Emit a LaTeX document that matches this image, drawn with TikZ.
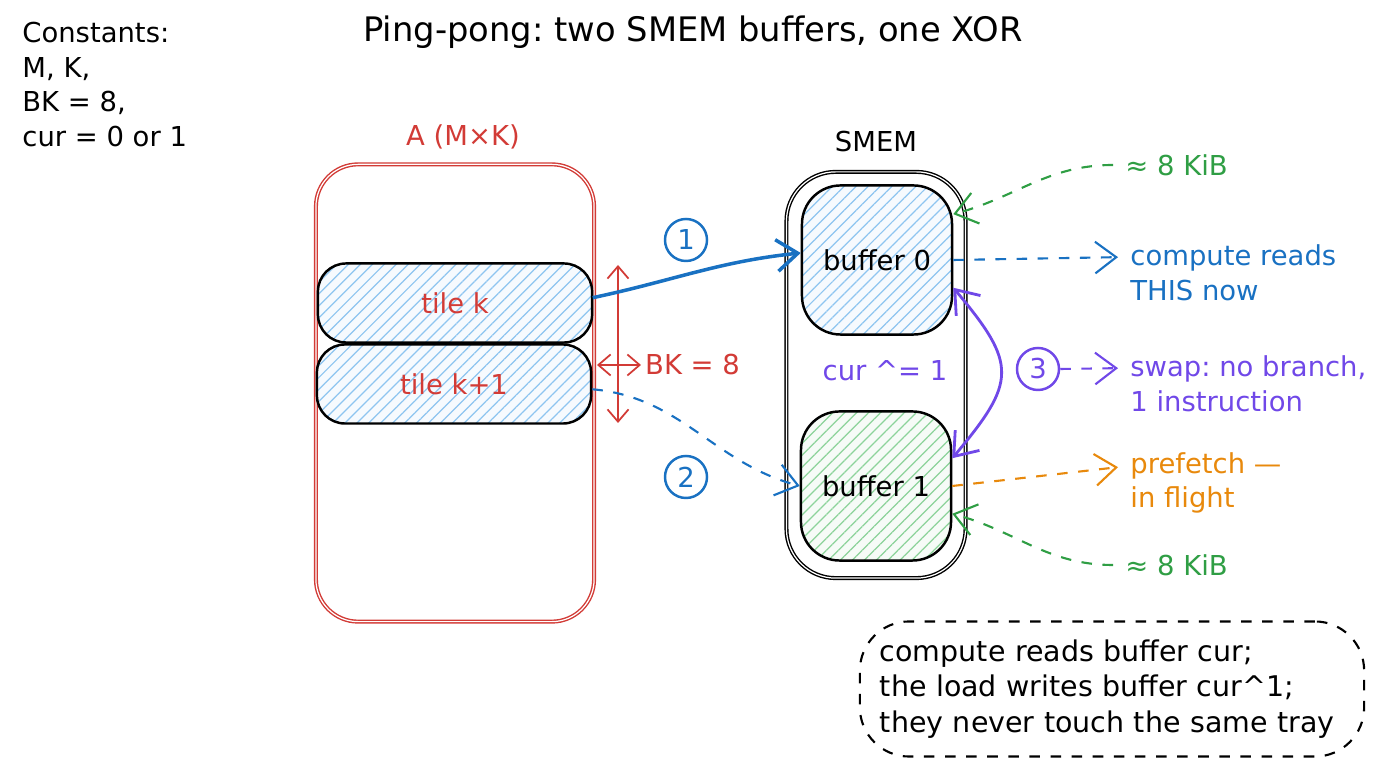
\documentclass[tikz,border=0pt]{standalone}
\usepackage{fontspec}
\setmainfont{DejaVu Sans}
\usetikzlibrary{arrows.meta,patterns.meta,positioning}
\definecolor{sred}{HTML}{D23B36}
\definecolor{sblue}{HTML}{1971C2}
\definecolor{sgreen}{HTML}{2F9E44}
\definecolor{sorange}{HTML}{E8890C}
\definecolor{sviolet}{HTML}{7048E8}
\definecolor{hblue}{HTML}{8EC5F0}
\definecolor{hgreen}{HTML}{8CD39A}
\frenchspacing

\begin{document}
\begin{tikzpicture}[x=0.01cm,y=-0.01cm,
	every node/.style={font=\fontsize{7.8}{9.8}\selectfont},
	tip/.style={-{Straight Barb[length=6pt,width=9pt]}},
	tiptip/.style={{Straight Barb[length=6pt,width=9pt]}-{Straight Barb[length=6pt,width=9pt]}},
	smalltips/.style={{Straight Barb[length=3.5pt,width=6pt]}-{Straight Barb[length=3.5pt,width=6pt]}},
	frame/.style={draw,line width=0.4pt,double=white,double distance=0.35pt,rounded corners=12pt,inner sep=0},
	hatch/.style={preaction={fill=#1!8},pattern={Lines[angle=45,distance=2.4pt,line width=0.35pt]},pattern color=#1},
	tile/.style={draw=black,line width=0.7pt,rounded corners=8pt,inner sep=0,minimum width=2.74cm,minimum height=0.79cm,hatch=hblue,text=sred},
	buf/.style={draw=black,line width=0.7pt,rounded corners=11pt,inner sep=0,minimum width=1.5cm,minimum height=1.49cm},
	num/.style={circle,draw,line width=0.7pt,inner sep=0,minimum size=0.42cm},
	lbl/.style={anchor=west,align=left}
]
	\useasboundingbox (0,0) rectangle (1376,768);
	\node[anchor=north west,align=left] (consts) at (10,10) {Constants:\\M, K,\\BK = 8,\\cur = 0 or 1};
	\node[font=\fontsize{9.6}{12}\selectfont] (title) at (693,32) {Ping-pong: two SMEM buffers, one XOR};

	\node[frame,draw=sred,minimum width=2.78cm,minimum height=4.57cm] (A) at (455,393) {};
	\node[text=sred] (Alab) at (463,137) {A (M×K)};
	\node[tile] (tilek) at (455,303) {tile k};
	\node[tile] (tilek1) at (454,384) {tile k+1};
	\coordinate (bktop) at (618,265);
	\coordinate (bkbot) at (618,423);
	\coordinate (bkin) at (597,365);
	\node[lbl,text=sred,inner sep=1pt] (bk) at (641,365) {BK = 8};
	\draw[sred,line width=0.5pt,smalltips] (bktop) -- (bkbot);
	\draw[sred,line width=0.5pt,smalltips] (bkin) -- (bk.west);

	\node[frame,draw=black,rounded corners=14pt,minimum width=1.79cm,minimum height=4.06cm] (smem) at (876,375) {};
	\node (smemlab) at (876,142) {SMEM};
	\node[buf,hatch=hblue] (buf0) at (877,260) {buffer 0};
	\node[buf,hatch=hgreen] (buf1) at (876,486) {buffer 1};
	\node[text=sviolet] (xor) at (885,371) {cur \textasciicircum= 1};

	\node[num,draw=sblue,text=sblue] (n1) at (686,240) {1};
	\node[num,draw=sblue,text=sblue] (n2) at (686,477) {2};
	\draw[sblue,line width=1pt,tip] ([yshift=1.5pt]tilek.east) to[out=12,in=186] ([yshift=2pt]buf0.west);
	\draw[sblue,line width=0.6pt,dashed,tip] ([yshift=-1.5pt]tilek1.east) to[out=-5,in=165] (buf1.west);

	\node[num,draw=sviolet,text=sviolet] (n3) at (1038,369) {3};
	\draw[sviolet,line width=0.8pt,tiptip] (buf0.340) to[out=-50,in=50,looseness=1.5] (buf1.20);

	\node[lbl,text=sblue] (reads) at (1118,273) {compute reads\\THIS now};
	\node[lbl,text=sviolet] (swap) at (1118,384) {swap: no branch,\\1 instruction};
	\node[lbl,text=sorange] (pref) at (1118,483) {prefetch —\\in flight};
	\node[lbl,text=sgreen] (kib0) at (1113,165) {≈ 8 KiB};
	\node[lbl,text=sgreen] (kib1) at (1113,565) {≈ 8 KiB};

	\draw[sblue,line width=0.6pt,dashed,tip] (buf0.east) -- ([yshift=4.5pt]reads.west);
	\draw[sviolet,line width=0.6pt,dashed,tip] (n3.east) -- ([yshift=4.5pt]swap.west);
	\draw[sorange,line width=0.6pt,dashed,tip] (buf1.east) -- ([yshift=4.5pt]pref.west);
	\draw[sgreen,line width=0.6pt,dashed,tip] (kib0.west) to[out=180,in=15] (buf0.31);
	\draw[sgreen,line width=0.6pt,dashed,tip] (kib1.west) to[out=180,in=-15] (buf1.-20);

	\node[draw,dashed,line width=0.6pt,rounded corners=14pt,font=\fontsize{8.1}{10}\selectfont,text width=4.64cm,inner xsep=0.2cm,minimum height=1.35cm,align=left] (note) at (1112,689) {compute reads buffer cur;\\the load writes buffer cur\textasciicircum1;\\they never touch the same tray};
\end{tikzpicture}
\end{document}
